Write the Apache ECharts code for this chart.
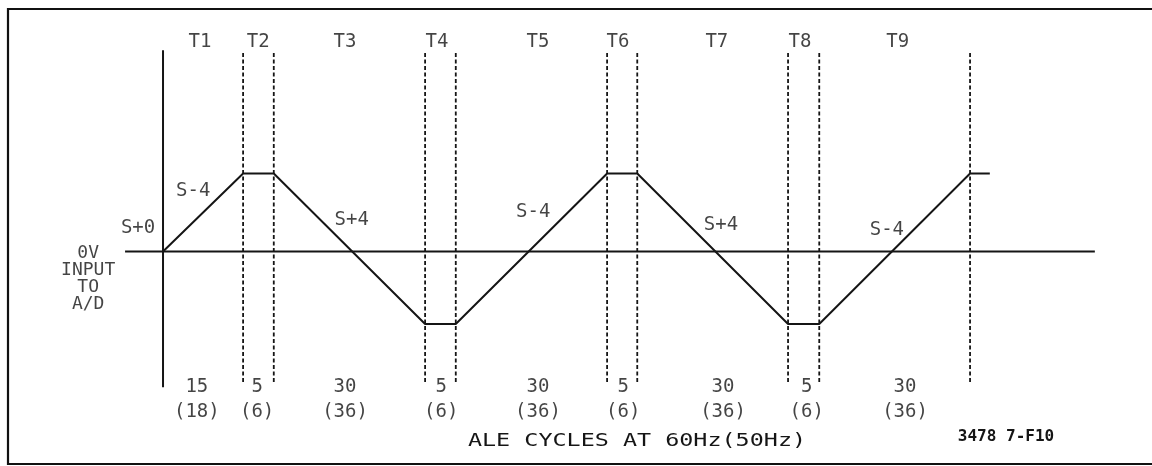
<!DOCTYPE html>
<html>
<head>
<meta charset="utf-8">
<script src="https://cdn.jsdelivr.net/npm/echarts@6/dist/echarts.min.js"></script>
<style>
  html, body { margin: 0; padding: 0; background: #fff; }
  #chart { width: 1152px; height: 466px; }
</style>
</head>
<body>
<div id="chart"></div>
<script>
// time positions of the phase boundaries (drawing units, T1 starts at 0)
var edges = [0, 15.4, 21.3, 50.4, 56.3, 85.4, 91.2, 120.2, 126.2, 155.2]
// waveform: boundaries + short tail after T9
var waveX = [0, 15.4, 21.3, 50.4, 56.3, 85.4, 91.2, 120.2, 126.2, 155.2, 159.0]
var waveY = [0, 1, 1, -0.93, -0.93, 1, 1, -0.93, -0.93, 1, 1]
// 0V reference line
var baseX = [-7.3, 179.2]

var phaseNames = ['T1', 'T2', 'T3', 'T4', 'T5', 'T6', 'T7', 'T8', 'T9']
var phaseLabelX = [7.1, 18.3, 35.0, 52.7, 72.1, 87.5, 106.5, 122.5, 141.3]
var cycles60 = ['15', '5', '30', '5', '30', '5', '30', '5', '30']
var cycles50 = ['(18)', '(6)', '(36)', '(6)', '(36)', '(6)', '(36)', '(6)', '(36)']
var cycleLabelX = [6.5, 18.1, 35.0, 53.5, 72.1, 88.5, 107.7, 123.8, 142.7]

var slopeNames = ['S+0', 'S-4', 'S+4', 'S-4', 'S+4', 'S-4']
var slopeX = [-4.8, 5.8, 36.3, 71.2, 107.3, 139.2]
var slopeY = [0.30, 0.78, 0.40, 0.51, 0.34, 0.28]

var X_MIN = -31.35, X_MAX = 190.19
var Y_MIN = -2.75, Y_MAX = 3.224

var FONT = 'DejaVu Sans Mono'
var INK = '#151515'

var chart = echarts.init(document.getElementById('chart'))

function labelSeries(names, xs, y, size) {
  return {
    type: 'scatter',
    symbolSize: 0,
    silent: true,
    clip: false,
    data: names.map(function (n, i) {
      return { name: n, value: [xs[i], Array.isArray(y) ? y[i] : y] }
    }),
    label: {
      show: true,
      position: 'inside',
      formatter: '{b}',
      color: INK,
      fontFamily: FONT,
      fontSize: size || 19,
    },
  }
}

var series = []

// 0V line
series.push({
  type: 'line',
  symbol: 'none',
  silent: true,
  lineStyle: { color: INK, width: 2 },
  data: [[baseX[0], 0], [baseX[1], 0]],
})

// solid start line
series.push({
  type: 'line',
  symbol: 'none',
  silent: true,
  lineStyle: { color: INK, width: 2 },
  data: [[edges[0], 2.58], [edges[0], -1.74]],
})

// dashed phase boundaries
edges.slice(1).forEach(function (x) {
  series.push({
    type: 'line',
    symbol: 'none',
    silent: true,
    lineStyle: { color: INK, width: 1.8, type: [4, 2.5] },
    data: [[x, 2.545], [x, -1.686]],
  })
})

// integrator waveform
series.push({
  type: 'line',
  symbol: 'none',
  silent: true,
  z: 5,
  lineStyle: { color: INK, width: 2 },
  data: waveX.map(function (x, i) { return [x, waveY[i]] }),
})

series.push(labelSeries(phaseNames, phaseLabelX, 2.686))
series.push(labelSeries(cycles60, cycleLabelX, -1.744))
series.push(labelSeries(cycles50, cycleLabelX, -2.064))
series.push(labelSeries(slopeNames, slopeX, slopeY))

// axis caption on the left
series.push({
  type: 'scatter',
  symbolSize: 0,
  silent: true,
  clip: false,
  data: [{ name: '0V\nINPUT\nTO\nA/D', value: [-14.4, -0.346] }],
  label: {
    show: true,
    position: 'inside',
    formatter: '{b}',
    color: INK,
    fontFamily: FONT,
    fontSize: 18,
    lineHeight: 17,
    align: 'center',
  },
})

var option = {
  animation: false,
  backgroundColor: '#fff',
  grid: { left: 0, right: 0, top: 0, bottom: 0 },
  xAxis: { type: 'value', min: X_MIN, max: X_MAX, show: false },
  yAxis: { type: 'value', min: Y_MIN, max: Y_MAX, show: false },
  graphic: [
    {
      type: 'rect',
      silent: true,
      shape: { x: 8, y: 9, width: 1220, height: 455 },
      style: { fill: 'none', stroke: '#111', lineWidth: 2.2 },
    },
    {
      type: 'text',
      silent: true,
      x: 637,
      y: 441,
      scaleX: 1.3,
      style: {
        text: 'ALE CYCLES AT 60Hz(50Hz)',
        fontFamily: FONT,
        fontSize: 18,
        fill: INK,
        textAlign: 'center',
        textVerticalAlign: 'middle',
      },
    },
    {
      type: 'text',
      silent: true,
      x: 1006,
      y: 437,
      style: {
        text: '3478 7-F10',
        fontFamily: FONT,
        fontSize: 16,
        fontWeight: 'bold',
        fill: INK,
        textAlign: 'center',
        textVerticalAlign: 'middle',
      },
    },
  ],
  series: series,
}

chart.setOption(option)
</script>
</body>
</html>
